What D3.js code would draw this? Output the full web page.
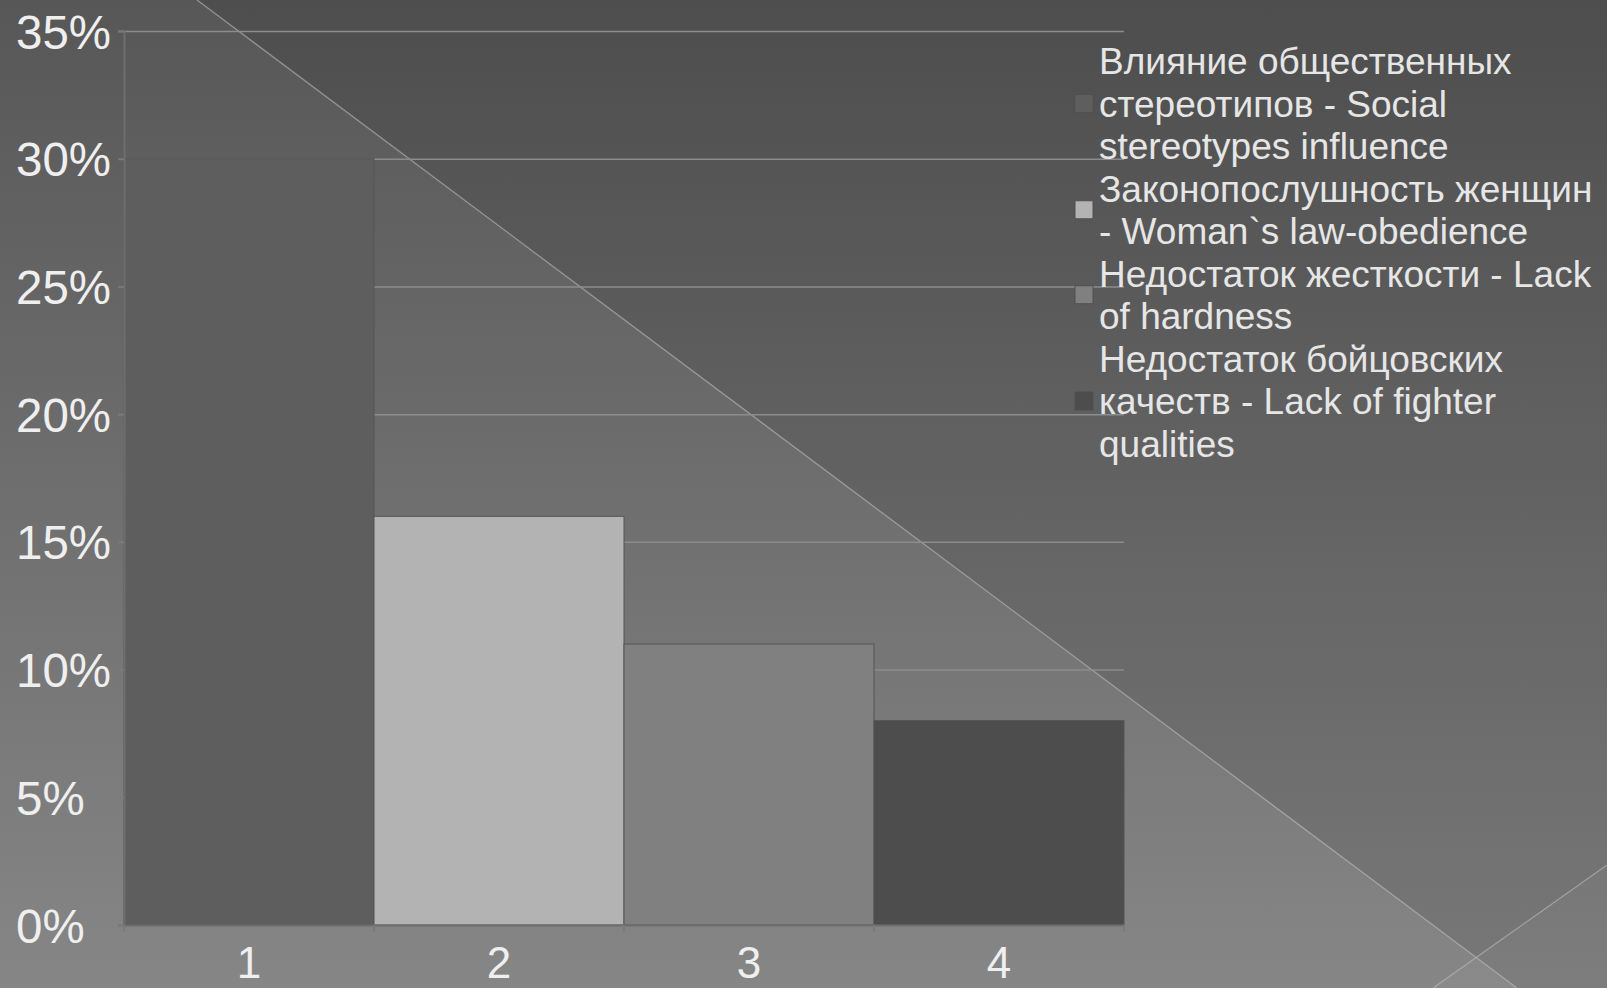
<!DOCTYPE html>
<html><head><meta charset="utf-8">
<script src="https://cdn.jsdelivr.net/npm/d3@7"></script>
<style>html,body{margin:0;padding:0;overflow:hidden;background:#6a6a6a}</style>
</head><body>
<svg id="chart" width="1607" height="988"></svg>
<script>
const categories = ["1", "2", "3", "4"];
const values = [30, 16, 11, 8];
const seriesNames = [
  ["Влияние общественных", "стереотипов - Social", "stereotypes influence"],
  ["Законопослушность женщин", "- Woman`s law-obedience"],
  ["Недостаток жесткости - Lack", "of hardness"],
  ["Недостаток бойцовских", "качеств - Lack of fighter", "qualities"]
];
const barColors = ["#5e5e5e", "#b3b3b3", "#808080", "#4d4d4d"];
const yTicks = [0, 5, 10, 15, 20, 25, 30, 35];

(function(){
const W = 1607, H = 988;
const svg = d3.select("#chart");
const font = "'Liberation Sans', Arial, sans-serif";

// background
const defs = svg.append("defs");
const g1 = defs.append("linearGradient").attr("id","bg").attr("x1",0).attr("y1",0).attr("x2",0).attr("y2",1);
g1.append("stop").attr("offset","0%").attr("stop-color","#575757");
g1.append("stop").attr("offset","100%").attr("stop-color","#868686");
svg.append("rect").attr("width",W).attr("height",H).attr("fill","url(#bg)");
svg.append("path").attr("d", `M197,0 L1517,988 L${W},988 L${W},0 Z`).attr("fill","#000").attr("opacity",0.1);
svg.append("path").attr("d", `M1433,988 L${W},865 L${W},988 Z`).attr("fill","#fff").attr("opacity",0.04);
svg.append("line").attr("x1",197).attr("y1",0).attr("x2",1517).attr("y2",988)
  .attr("stroke","#bdbdbd").attr("stroke-opacity",0.6).attr("stroke-width",1.3);
svg.append("line").attr("x1",1433).attr("y1",988).attr("x2",W).attr("y2",865)
  .attr("stroke","#bdbdbd").attr("stroke-opacity",0.6).attr("stroke-width",1.3);

const mL = 124, mR = 1124, mT = 31, mB = 925;
const x = d3.scaleBand().domain(categories).range([mL, mR]).padding(0);
const y = d3.scaleLinear().domain([0, 35]).range([mB, mT]);

// gridlines
svg.append("g").selectAll("line").data(yTicks.filter(d => d > 0)).join("line")
  .attr("x1", mL).attr("x2", mR).attr("y1", d => y(d)+0.5).attr("y2", d => y(d)+0.5)
  .attr("stroke", "#8c8c8c").attr("stroke-width", 1.5);

// bars
svg.append("g").selectAll("rect").data(values).join("rect")
  .attr("x", (d,i) => x(categories[i]))
  .attr("y", d => y(d))
  .attr("width", x.bandwidth())
  .attr("height", d => y(0) - y(d))
  .attr("fill", (d,i) => barColors[i])
  .attr("stroke", "#555").attr("stroke-width", 1);

// y axis
const yAxis = d3.axisLeft(y).tickValues(yTicks).tickFormat(d => d + "%").tickSize(6).tickPadding(14);
const ya = svg.append("g").attr("transform", `translate(${mL},0)`).call(yAxis);
ya.select(".domain").attr("stroke", "#6e6e6e").attr("stroke-width", 2);
ya.selectAll(".tick line").attr("stroke", "#7a7a7a").attr("stroke-width", 2);
ya.selectAll("text").attr("fill", "#efefef").attr("font-family", font).attr("font-size", 47.5)
  .attr("text-anchor", "start").attr("x", 16 - mL).attr("dy","0.36em");

// x axis
const xAxis = d3.axisBottom(x).tickSize(0).tickPadding(22);
const xa = svg.append("g").attr("transform", `translate(0,${mB})`).call(xAxis);
xa.select(".domain").attr("stroke", "#6e6e6e").attr("stroke-width", 2);
xa.selectAll("text").attr("fill", "#efefef").attr("font-family", font).attr("font-size", 44).attr("dy","0.71em");
svg.append("g").selectAll("line").data(categories.concat(["end"])).join("line")
  .attr("x1", (d,i) => i < categories.length ? x(d) : mR)
  .attr("x2", (d,i) => i < categories.length ? x(d) : mR)
  .attr("y1", mB).attr("y2", mB + 7)
  .attr("stroke", "#7a7a7a").attr("stroke-width", 2);

// legend
const lineH = 42.5;
const legX = 1099, markX = 1075, markS = 18;
let cy = 61;
const leg = svg.append("g");
seriesNames.forEach((lines, i) => {
  const g = leg.append("g");
  const n = lines.length;
  const centerY = cy + (n - 1) * lineH / 2;
  g.append("rect").attr("x", markX).attr("y", centerY - markS/2).attr("width", markS).attr("height", markS)
    .attr("fill", barColors[i]).attr("stroke", "#505050").attr("stroke-width", 1);
  g.selectAll("text").data(lines).join("text")
    .attr("x", legX).attr("y", (d,j) => cy + j*lineH)
    .attr("dy", "0.36em")
    .attr("fill", "#e6e6e6").attr("font-family", font).attr("font-size", 37)
    .text(d => d);
  cy += n * lineH;
});
})();
</script>
</body></html>
